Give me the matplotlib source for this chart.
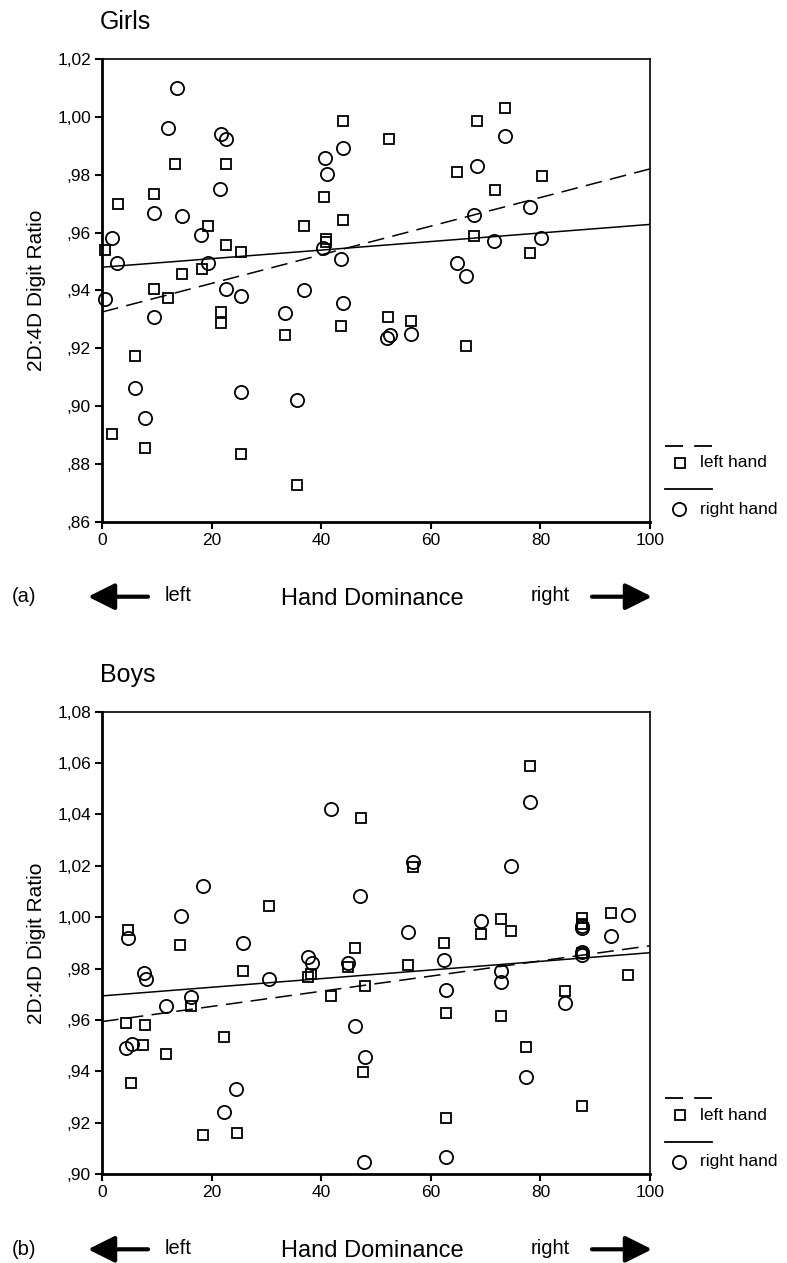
import matplotlib
matplotlib.use("Agg")
import matplotlib.pyplot as plt
from matplotlib.lines import Line2D
from matplotlib.ticker import FuncFormatter, MultipleLocator

plt.rcParams['font.family'] = ['Liberation Sans', 'DejaVu Sans']
plt.rcParams['lines.scale_dashes'] = False

# ===== Girls =====
girls_left_x = [0.55, 2.9, 1.8, 6.0, 7.8, 9.5, 9.5, 12.0, 13.4, 14.6, 18.2, 19.4, 21.7,
                21.7, 22.6, 22.6, 25.4, 25.4, 33.4, 35.6, 36.9, 40.5, 40.8, 40.8, 43.9,
                43.9, 43.6, 52.4, 52.2, 56.3, 64.7, 66.5, 67.9, 68.5, 71.7, 73.5, 78.1, 80.3]
girls_left_y = [0.9538, 0.9697, 0.8903, 0.9174, 0.8856, 0.9732, 0.9403, 0.9374, 0.9838,
                0.9457, 0.9475, 0.9621, 0.9325, 0.9286, 0.9838, 0.9558, 0.9533, 0.8833,
                0.9246, 0.8727, 0.9621, 0.9723, 0.9579, 0.9567, 0.9986, 0.9644, 0.9275,
                0.9922, 0.9309, 0.9293, 0.9809, 0.9209, 0.9588, 0.9986, 0.9746, 1.0029,
                0.9529, 0.9794]
girls_right_x = [0.55, 1.9, 2.8, 6.0, 7.8, 9.5, 9.5, 12.0, 13.6, 14.6, 18.1, 19.4, 21.7,
                 22.6, 21.5, 22.6, 25.4, 25.4, 33.4, 35.6, 36.9, 40.7, 41.0, 43.9, 40.4,
                 43.6, 43.9, 52.0, 52.6, 56.3, 64.7, 66.5, 67.9, 68.5, 71.6, 73.5, 78.1, 80.2]
girls_right_y = [0.9370, 0.9581, 0.9494, 0.9061, 0.8957, 0.9669, 0.9309, 0.9963, 1.0098,
                 0.9657, 0.9592, 0.9494, 0.9939, 0.9922, 0.9752, 0.9405, 0.9380, 0.9050,
                 0.9320, 0.9020, 0.9400, 0.9858, 0.9804, 0.9893, 0.9547, 0.9509, 0.9357,
                 0.9235, 0.9245, 0.9250, 0.9494, 0.9451, 0.9659, 0.9829, 0.9570, 0.9933,
                 0.9688, 0.9581]
girls_left_fit = [0.9325, 0.982]
girls_right_fit = [0.948, 0.9628]

# ===== Boys =====
boys_left_x = [4.7, 4.4, 5.3, 7.9, 7.5, 11.7, 14.2, 16.2, 18.4, 22.2, 24.6, 25.8, 30.5,
               37.6, 38.2, 41.7, 44.8, 46.2, 47.2, 48.0, 47.7, 55.8, 56.8, 62.4, 62.8,
               62.8, 69.1, 72.9, 74.6, 72.9, 77.3, 78.1, 84.5, 87.5, 87.5, 87.6, 87.5,
               92.8, 95.9]
boys_left_y = [0.9951, 0.9590, 0.9357, 0.9582, 0.9502, 0.9469, 0.9892, 0.9655, 0.9153,
               0.9536, 0.9160, 0.9789, 1.0045, 0.9767, 0.9780, 0.9695, 0.9808, 0.9880,
               1.0388, 0.9734, 0.9397, 0.9815, 1.0197, 0.9901, 0.9629, 0.9218, 0.9935,
               0.9992, 0.9947, 0.9616, 0.9497, 1.0589, 0.9715, 0.9996, 0.9975, 0.9860,
               0.9266, 1.0018, 0.9776]
boys_right_x = [4.7, 4.4, 5.4, 7.7, 8.0, 11.7, 14.4, 16.2, 18.5, 22.2, 24.5, 25.8, 30.5,
                37.6, 38.3, 41.7, 44.8, 46.2, 47.1, 48.0, 47.8, 55.8, 56.8, 62.4, 62.8,
                62.8, 69.1, 72.9, 72.9, 74.6, 77.3, 78.1, 84.4, 87.5, 87.5, 87.5, 87.5,
                92.8, 95.9]
boys_right_y = [0.9918, 0.9490, 0.9507, 0.9782, 0.9760, 0.9655, 1.0005, 0.9691, 1.0123,
                0.9244, 0.9331, 0.9899, 0.9760, 0.9847, 0.9821, 1.0421, 0.9823, 0.9575,
                1.0084, 0.9458, 0.9047, 0.9944, 1.0215, 0.9834, 0.9717, 0.9069, 0.9986,
                0.9792, 0.9749, 1.0201, 0.9380, 1.0447, 0.9665, 0.9966, 0.9957, 0.9866,
                0.9853, 0.9927, 1.0009]
boys_left_fit = [0.9594, 0.9889]
boys_right_fit = [0.9694, 0.9862]

fit_x = [0, 100]

W, H = 787, 1263
fig = plt.figure(figsize=(W / 100, H / 100), dpi=100)


def fx(px):
    return px / W


def fy(py):
    return 1 - py / H


def fmt_tick(v, pos):
    s = f"{v:.2f}".replace('.', ',')
    if s.startswith('0'):
        s = s[1:]
    return s


def draw_panel(rect, lx, ly, rx, ry, lfit, rfit, ylim, title, tag, top_px, bottom_px):
    ax = fig.add_axes(rect)
    ax.plot(fit_x, lfit, color='black', lw=1.1, dashes=(12, 6))
    ax.plot(fit_x, rfit, color='black', lw=1.1)
    ax.plot(lx, ly, ls='none', marker='s', ms=7, mfc='none', mec='black', mew=1.3,
            clip_on=False)
    ax.plot(rx, ry, ls='none', marker='o', ms=9.5, mfc='none', mec='black', mew=1.3,
            clip_on=False)
    ax.set_xlim(0, 100)
    ax.set_ylim(*ylim)
    ax.xaxis.set_major_locator(MultipleLocator(20))
    ax.yaxis.set_major_locator(MultipleLocator(0.02))
    ax.yaxis.set_major_formatter(FuncFormatter(fmt_tick))
    ax.tick_params(direction='out', length=5, width=1.5, labelsize=12.5, pad=3)
    ax.spines['left'].set_linewidth(2)
    ax.spines['bottom'].set_linewidth(2)
    ax.spines['top'].set_linewidth(1.2)
    ax.spines['right'].set_linewidth(1.2)
    ax.set_ylabel('2D:4D Digit Ratio', fontsize=15, labelpad=8)

    # title
    fig.text(fx(100), fy(top_px - 37), title, fontsize=18, ha='left', va='center')

    # hand dominance row
    row = bottom_px + 75
    fig.text(fx(12), fy(row), tag, fontsize=14.5, ha='left', va='center')
    fig.text(fx(165), fy(row - 1), 'left', fontsize=14.5, ha='left', va='center')
    fig.text(fx(372), fy(row + 2), 'Hand Dominance', fontsize=17, ha='center', va='center')
    fig.text(fx(531), fy(row - 1), 'right', fontsize=14.5, ha='left', va='center')
    arrow = dict(arrowstyle='-|>,head_length=0.9,head_width=0.45', lw=3, color='black',
                 mutation_scale=18, shrinkA=0, shrinkB=0)
    fig.add_artist(plt.Annotation('', xy=(fx(88), fy(row)), xytext=(fx(148), fy(row)),
                                  xycoords='figure fraction', arrowprops=arrow))
    fig.add_artist(plt.Annotation('', xy=(fx(652), fy(row)), xytext=(fx(592), fy(row)),
                                  xycoords='figure fraction', arrowprops=arrow))

    # legend on the right
    fig.add_artist(Line2D([fx(665), fx(712)], [fy(bottom_px - 76)] * 2, color='black',
                          lw=1.3, dashes=(13, 8), transform=fig.transFigure))
    fig.add_artist(Line2D([fx(680)], [fy(bottom_px - 59)], ls='none', marker='s', ms=7,
                          mfc='none', mec='black', mew=1.3, transform=fig.transFigure))
    fig.text(fx(700), fy(bottom_px - 59), 'left hand', fontsize=12.5, ha='left', va='center')
    fig.add_artist(Line2D([fx(665), fx(712)], [fy(bottom_px - 32.5)] * 2, color='black',
                          lw=1.3, transform=fig.transFigure))
    fig.add_artist(Line2D([fx(679)], [fy(bottom_px - 12.5)], ls='none', marker='o', ms=9.5,
                          mfc='none', mec='black', mew=1.3, transform=fig.transFigure))
    fig.text(fx(700), fy(bottom_px - 12.5), 'right hand', fontsize=12.5, ha='left', va='center')
    return ax


ax_w = (650 - 102) / W
ax_h = (521.7 - 59) / H

draw_panel([fx(102), fy(521.7), ax_w, ax_h], girls_left_x, girls_left_y,
           girls_right_x, girls_right_y, girls_left_fit, girls_right_fit,
           (0.86, 1.02), 'Girls', '(a)', 59, 521.7)
draw_panel([fx(102), fy(1174.3), ax_w, ax_h], boys_left_x, boys_left_y,
           boys_right_x, boys_right_y, boys_left_fit, boys_right_fit,
           (0.90, 1.08), 'Boys', '(b)', 711.7, 1174.3)

plt.savefig('out.png', dpi=100)
